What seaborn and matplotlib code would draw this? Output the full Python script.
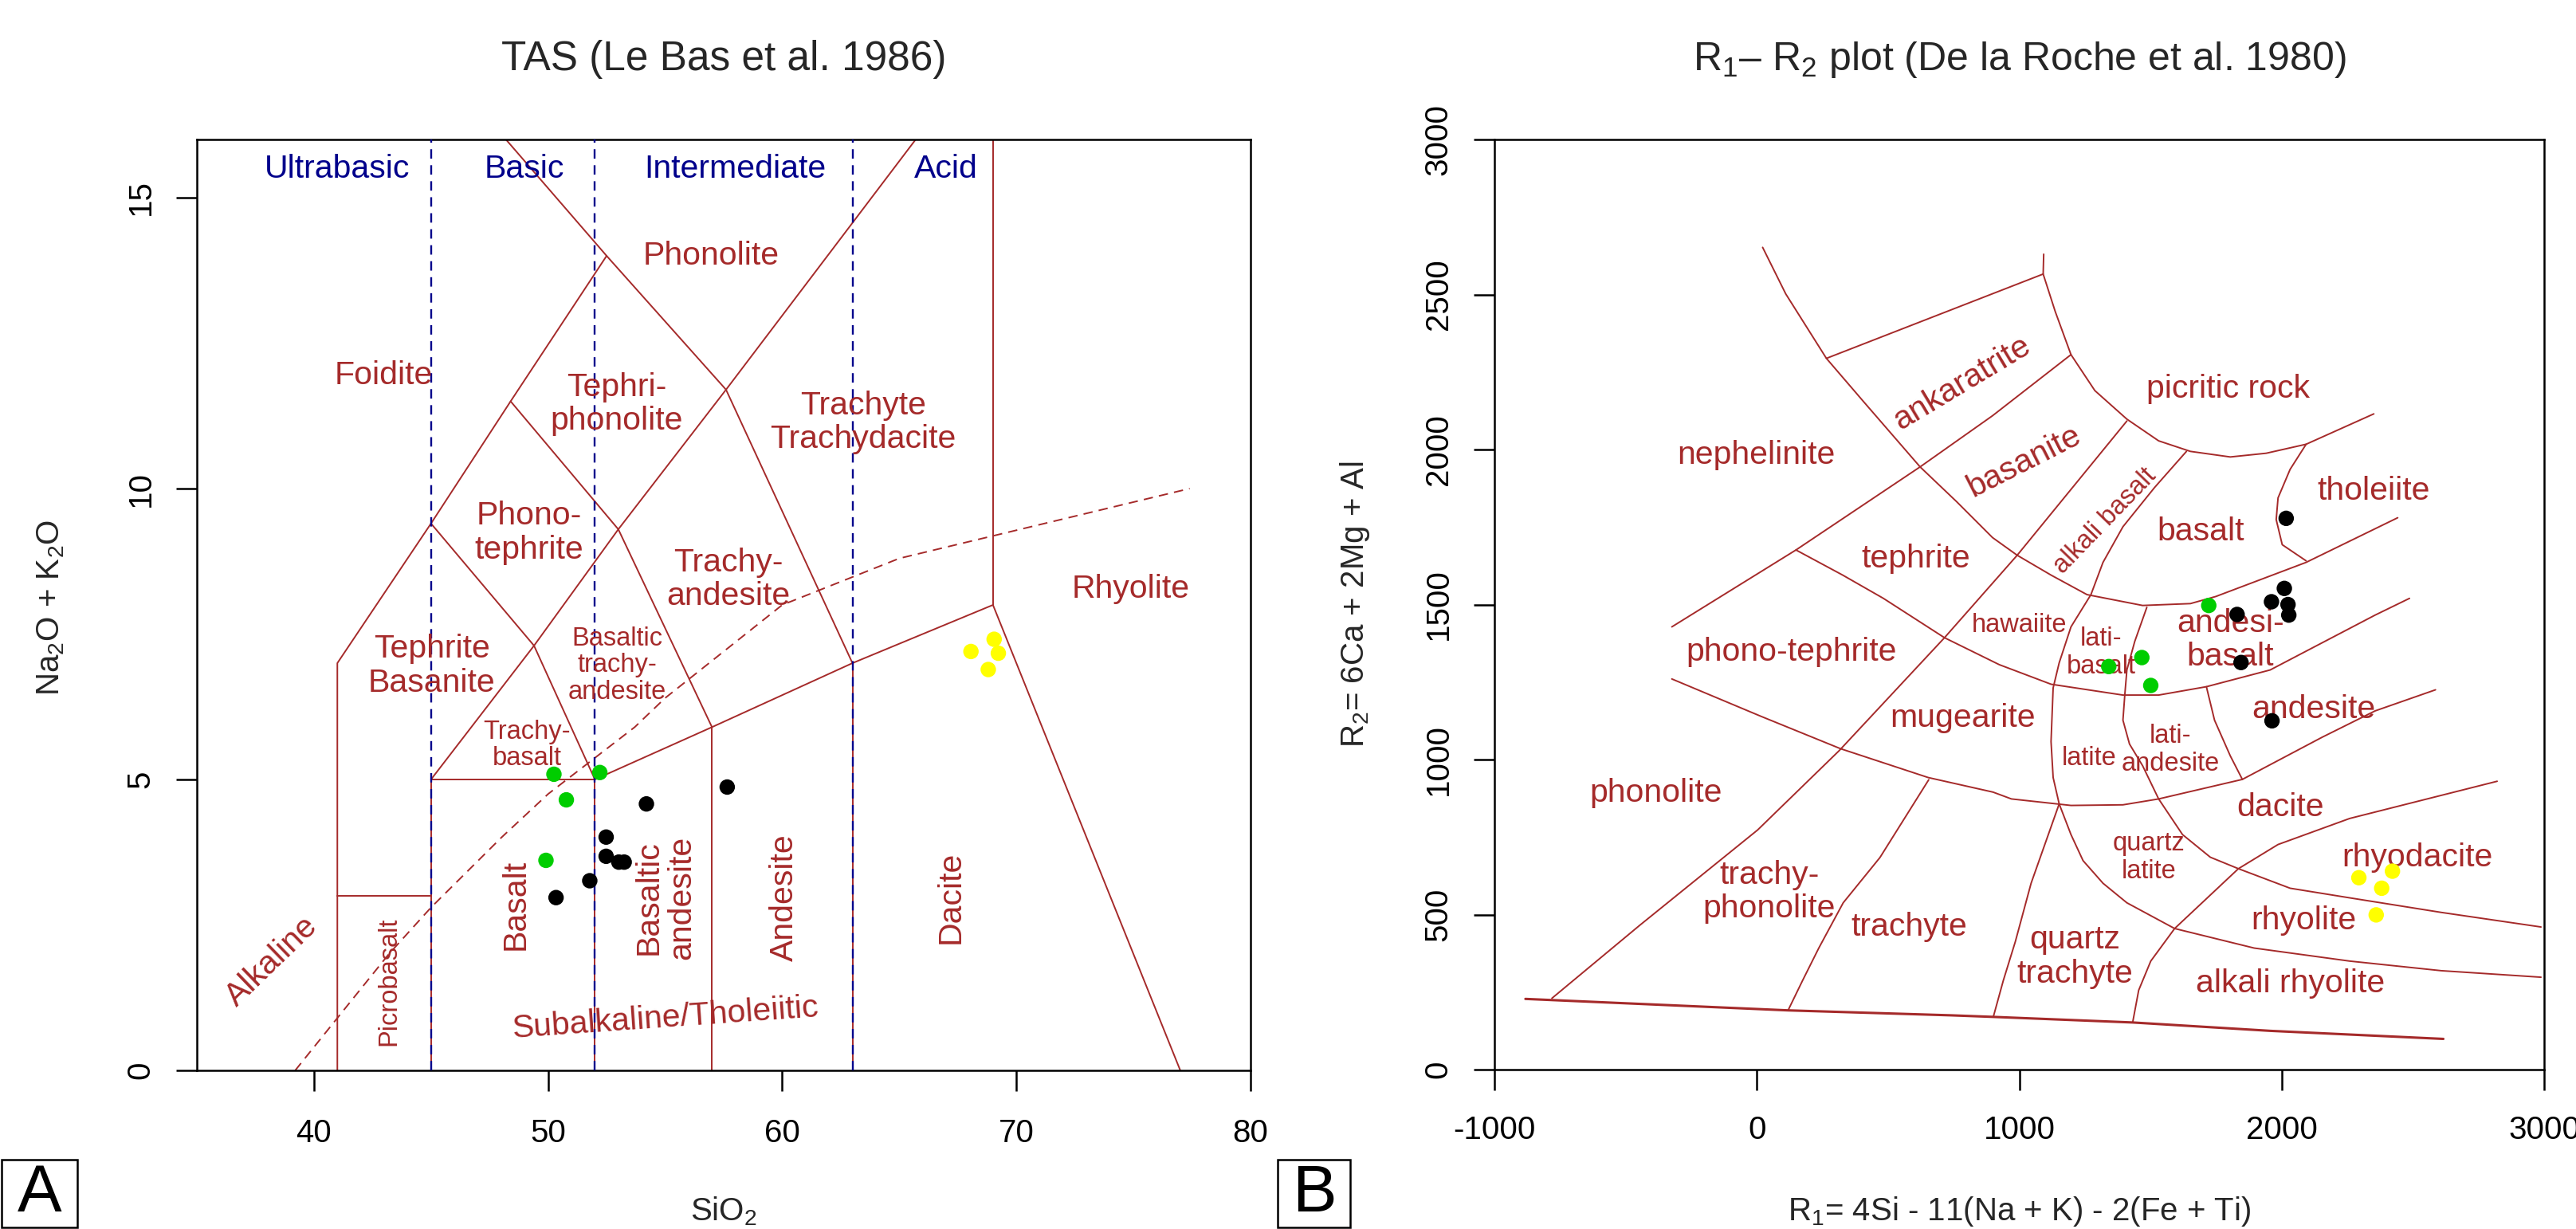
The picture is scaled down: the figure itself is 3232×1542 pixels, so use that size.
import matplotlib
matplotlib.use("Agg")
import matplotlib.pyplot as plt
import seaborn as sns
import pandas as pd
from matplotlib.patches import Rectangle

# ---------------- sample data ----------------
TAS_SIO2_BLACK = [54.2, 57.65, 52.48, 52.48, 53.02, 53.25, 51.78, 50.34]
TAS_ALK_BLACK = [4.58, 4.87, 4.01, 3.68, 3.58, 3.58, 3.26, 2.97]
TAS_SIO2_GREEN = [50.25, 52.21, 50.78, 49.91]
TAS_ALK_GREEN = [5.09, 5.12, 4.65, 3.61]
TAS_SIO2_YELLOW = [69.05, 68.06, 69.23, 68.8]
TAS_ALK_YELLOW = [7.41, 7.2, 7.17, 6.89]

R1_BLACK = [2017, 2010, 1961, 2024, 2027, 1830, 1845, 1963]
R2_BLACK = [1778, 1552, 1509, 1500, 1466, 1468, 1313, 1125]
R1_GREEN = [1722, 1467, 1341, 1501]
R2_GREEN = [1497, 1329, 1300, 1239]
R1_YELLOW = [2294, 2422, 2381, 2360]
R2_YELLOW = [619, 640, 585, 499]

# ---------------- TAS field boundaries (Le Bas et al. 1986) ----------------
TAS_FOIDITE = [(41, 0), (41, 7), (45, 9.4), (48.4, 11.5), (52.5, 14)]
TAS_PHONOLITE = [(48.2, 16), (52.5, 14), (57.6, 11.7), (63, 7), (69, 8), (77, 0)]
TAS_TEPHRITE = [(45, 9.4), (49.4, 7.3), (52, 5)]
TAS_TEPHRIPHON = [(48.4, 11.5), (53, 9.3), (57, 5.9)]
TAS_TRACHY = [(45, 5), (49.4, 7.3), (53, 9.3), (57.6, 11.7), (65.7, 16)]
TAS_PICRO = [(41, 3), (45, 3)]
TAS_BASALT = [(45, 0), (45, 5), (52, 5), (52, 0)]
TAS_SUBALK = [(52, 5), (57, 5.9), (63, 7)]
TAS_V57 = [(57, 0), (57, 5.9)]
TAS_V63 = [(63, 0), (63, 7)]
TAS_V69 = [(69, 8), (69, 16)]
IRVINE_X = [39.2, 40, 43.2, 45, 48, 50, 53.7, 55, 60, 65, 77.4]
IRVINE_Y = [0, 0.4, 2, 2.8, 4, 4.75, 5.9, 6.4, 8, 8.8, 10]
TAS_DIVIDERS = [45, 52, 63]

TAS_CLASS_TEXT = ["Ultrabasic", "Basic", "Intermediate", "Acid"]
TAS_CLASS_X = [41, 49, 58, 67]
TAS_CLASS_Y = [15.5, 15.5, 15.5, 15.5]

TAS_LABELS = [("Phonolite", 56.95, 14.0), ("Foidite", 42.98, 11.94),
              ("Tephri-\nphonolite", 52.94, 11.45), ("Trachyte\nTrachydacite", 63.46, 11.14),
              ("Phono-\ntephrite", 49.2, 9.24), ("Trachy-\nandesite", 57.71, 8.44),
              ("Rhyolite", 74.9, 8.27), ("Tephrite\nBasanite", 45.03, 6.95)]
TAS_SMALL_LABELS = [("Basaltic\ntrachy-\nandesite", 52.94, 6.96), ("Trachy-\nbasalt", 49.1, 5.59)]
TAS_VERT_LABELS = [("Basalt", 48.6, 2.85), ("Basaltic\nandesite", 55.0, 2.97),
                   ("Andesite", 60.07, 2.97), ("Dacite", 67.2, 2.98)]
TAS_PICRO_LABEL = ("Picrobasalt", 43.2, 1.53)
TAS_ALK_LABEL = ("Alkaline", 38.2, 1.88)
TAS_SUB_LABEL = ("Subalkaline/Tholeiitic", 55.0, 0.89)

# ---------------- R1-R2 field boundaries (De la Roche et al. 1980) ----------------
R_P1 = [(22, 2652), (110, 2502), (265, 2294), (405, 2156), (622, 1944), (761, 1832),
        (898, 1716), (992, 1659), (1121, 1595), (1258, 1532), (1470, 1497), (1652, 1503),
        (1749, 1526), (2093, 1636), (2442, 1780)]
R_T = [(149, 1676), (327, 1595), (482, 1520), (715, 1393), (924, 1306), (1121, 1243),
       (1395, 1208), (1531, 1208), (1713, 1235), (1956, 1289), (2356, 1466), (2487, 1520)]
R_L2 = [(-324, 1260), (17, 1139), (319, 1035), (653, 942), (900, 895), (970, 873),
        (1197, 852), (1395, 854), (1531, 873), (1850, 936), (2154, 1072), (2356, 1157),
        (2586, 1225)]
R_Q = [(1486, 1491), (1440, 1381), (1410, 1289), (1402, 1208), (1395, 1127), (1420, 1050),
       (1470, 980), (1531, 873), (1622, 758), (1728, 685), (1835, 648), (2032, 585),
       (2259, 554), (2608, 507), (2988, 460)]
R_AB = [(1637, 1994), (1516, 1878), (1395, 1751), (1319, 1636), (1273, 1532), (1197, 1428),
        (1152, 1312), (1129, 1231), (1121, 1058), (1129, 942), (1152, 857), (1197, 758),
        (1243, 674), (1319, 601), (1410, 538), (1592, 455), (1895, 392), (2259, 350),
        (2608, 319), (2988, 298)]
R_D = [(-781, 230), (-447, 465), (3, 773), (314, 1029), (715, 1393), (992, 1659), (1410, 2092)]
R_C = [(-324, 1428), (149, 1676), (622, 1944), (898, 2109), (1197, 2306)]
R_A = [(265, 2294), (1091, 2566)]
R_PICRITIC = [(1093, 2630), (1091, 2566), (1137, 2445), (1197, 2306), (1288, 2190),
              (1410, 2098), (1531, 2028), (1652, 1994), (1804, 1976), (1941, 1988),
              (2093, 2017), (2351, 2115)]
R_THOL = [(2093, 2017), (2032, 1936), (1986, 1844), (1979, 1774), (2002, 1693), (2093, 1641)]
R_LATIAND = [(1713, 1235), (1744, 1127), (1804, 1012), (1850, 936)]
R_QTRACHY = [(1152, 857), (1045, 601), (985, 413), (939, 287), (901, 170)]
R_TRPHON = [(655, 935), (469, 684), (329, 538), (236, 392), (174, 287), (120, 193)]
R_DIAG = [(1432, 152), (1455, 256), (1501, 350), (1592, 455), (1835, 648), (1986, 726),
          (2259, 810), (2821, 930)]
R_BOTTOM = [(-882, 228), (120, 191), (742, 175), (901, 170), (1432, 152), (1956, 125), (2616, 99)]

R_LABELS = [("nephelinite", -3, 1982, 0), ("ankaratrite", 782, 2215, 31),
            ("basanite", 1019, 1962, 27), ("picritic rock", 1797, 2196, 0),
            ("tholeiite", 2351, 1867, 0), ("basalt", 1690, 1734, 0),
            ("tephrite", 606, 1647, 0), ("phono-tephrite", 133, 1347, 0),
            ("andesi-\nbasalt", 1804, 1385, 0), ("mugearite", 786, 1133, 0),
            ("andesite", 2123, 1162, 0), ("phonolite", -385, 893, 0),
            ("dacite", 1994, 846, 0), ("rhyodacite", 2517, 684, 0),
            ("trachy-\nphonolite", 47, 573, 0), ("trachyte", 580, 460, 0),
            ("rhyolite", 2085, 481, 0), ("quartz\ntrachyte", 1212, 364, 0),
            ("alkali rhyolite", 2032, 277, 0)]
R_SMALL_LABELS = [("alkali basalt", 1326, 1768, 46), ("hawaiite", 1000, 1433, 0),
                  ("lati-\nbasalt", 1311, 1344, 0), ("latite", 1266, 1003, 0),
                  ("lati-\nandesite", 1577, 1031, 0), ("quartz\nlatite", 1493, 684, 0)]

TAS_XTICKS = [40, 50, 60, 70, 80]
TAS_YTICKS = [0, 5, 10, 15]
R_XTICKS = [-1000, 0, 1000, 2000, 3000]
R_XTICK_LABELS = ["-1000", "0", "1000", "2000", "3000"]
R_YTICKS = [0, 500, 1000, 1500, 2000, 2500, 3000]

# ---------------- styling ----------------
BROWN = "#A52A2A"
BLUE = "#00008B"
GREEN = "#00CD00"
YELLOW = "#FFFF00"
PALETTE = {"black": "black", "green": GREEN, "yellow": YELLOW}

sns.set_style("white")
plt.rcParams["font.family"] = ["Liberation Sans", "DejaVu Sans"]
plt.rcParams["mathtext.fontset"] = "custom"
plt.rcParams["mathtext.rm"] = "Liberation Sans"
plt.rcParams["mathtext.it"] = "Liberation Sans:italic"
plt.rcParams["mathtext.bf"] = "Liberation Sans:bold"
plt.rcParams["axes.unicode_minus"] = False

fig = plt.figure(figsize=(32.32, 15.42), dpi=100)
fig.patch.set_facecolor("white")
axL = fig.add_axes([0.07642, 0.12905, 0.40903, 0.75746])
axR = fig.add_axes([0.58014, 0.12970, 0.40749, 0.75681])

LW = 1.4
MAIN_FS = 29.5
SMALL_FS = 23.5
DOT = 195


def draw(ax, pts, **kw):
    xs = [p[0] for p in pts]
    ys = [p[1] for p in pts]
    ax.plot(xs, ys, color=kw.pop("color", BROWN), lw=kw.pop("lw", LW), **kw)


def style_axes(ax, xlim, ylim, xticks, yticks, xpad, ypad, xticklabels=None):
    ax.set_xlim(*xlim)
    ax.set_ylim(*ylim)
    ax.set_xticks(xticks)
    ax.set_yticks(yticks)
    if xticklabels is not None:
        ax.set_xticklabels(xticklabels)
    ax.set_xlabel("")
    ax.set_ylabel("")
    for s in ax.spines.values():
        s.set_visible(True)
        s.set_color("black")
        s.set_linewidth(1.8)
    ax.tick_params(axis="both", direction="out", length=19, width=1.8, color="black",
                   labelsize=29, labelcolor="black")
    ax.tick_params(axis="x", pad=xpad, bottom=True)
    ax.tick_params(axis="y", pad=ypad, left=True, labelrotation=90)
    for lbl in ax.get_yticklabels():
        lbl.set_va("center")
    ax.grid(False)
    ax.set_facecolor("white")


# ---------------- TAS panel ----------------
for line in [TAS_FOIDITE, TAS_PHONOLITE, TAS_TEPHRITE, TAS_TEPHRIPHON, TAS_TRACHY,
             TAS_PICRO, TAS_BASALT, TAS_SUBALK, TAS_V57, TAS_V63, TAS_V69]:
    draw(axL, line)
axL.plot(IRVINE_X, IRVINE_Y, color=BROWN, lw=LW, linestyle=(0, (6, 4)))
for xv in TAS_DIVIDERS:
    axL.plot([xv, xv], [0, 16], color=BLUE, lw=1.7, linestyle=(0, (5, 3.5)), zorder=3)

for t, x, y in zip(TAS_CLASS_TEXT, TAS_CLASS_X, TAS_CLASS_Y):
    axL.text(x, y, t, color=BLUE, fontsize=MAIN_FS, ha="center", va="center")
for t, x, y in TAS_LABELS:
    axL.text(x, y, t, color=BROWN, fontsize=MAIN_FS, ha="center", va="center",
             multialignment="center", linespacing=1.15)
for t, x, y in TAS_SMALL_LABELS:
    axL.text(x, y, t, color=BROWN, fontsize=SMALL_FS, ha="center", va="center",
             multialignment="center", linespacing=1.1)
for t, x, y in TAS_VERT_LABELS:
    axL.text(x, y, t, color=BROWN, fontsize=MAIN_FS, ha="center", va="center",
             rotation=90, multialignment="center", linespacing=1.1)
axL.text(TAS_PICRO_LABEL[1], TAS_PICRO_LABEL[2], TAS_PICRO_LABEL[0], color=BROWN,
         fontsize=SMALL_FS, ha="center", va="center", rotation=90)
axL.text(TAS_ALK_LABEL[1], TAS_ALK_LABEL[2], TAS_ALK_LABEL[0], color=BROWN,
         fontsize=MAIN_FS, ha="center", va="center", rotation=44, rotation_mode="anchor")
axL.text(TAS_SUB_LABEL[1], TAS_SUB_LABEL[2], TAS_SUB_LABEL[0], color=BROWN,
         fontsize=MAIN_FS, ha="center", va="center", rotation=4, rotation_mode="anchor")

tas_df = pd.DataFrame({
    "SiO2": TAS_SIO2_BLACK + TAS_SIO2_GREEN + TAS_SIO2_YELLOW,
    "alk": TAS_ALK_BLACK + TAS_ALK_GREEN + TAS_ALK_YELLOW,
    "group": ["black"] * len(TAS_SIO2_BLACK) + ["green"] * len(TAS_SIO2_GREEN)
             + ["yellow"] * len(TAS_SIO2_YELLOW),
})
sns.scatterplot(data=tas_df, x="SiO2", y="alk", hue="group", palette=PALETTE, s=DOT,
                linewidth=0, legend=False, ax=axL, zorder=6)
style_axes(axL, (35, 80), (0, 16), TAS_XTICKS, TAS_YTICKS, xpad=24, ypad=18)

axL.text(0.5, 1.0745, "TAS (Le Bas et al. 1986)", transform=axL.transAxes, fontsize=37,
         ha="center", va="baseline")
axL.text(0.5, -0.161, "SiO$_\\mathregular{2}$", transform=axL.transAxes, fontsize=29,
         ha="center", va="baseline")
axL.text(-0.1384, 0.497, "Na$_\\mathregular{2}$O + K$_\\mathregular{2}$O",
         transform=axL.transAxes, fontsize=29, ha="center", va="center", rotation=90)

# ---------------- R1-R2 panel ----------------
for line in [R_P1, R_T, R_L2, R_Q, R_AB, R_D, R_C, R_A, R_PICRITIC, R_THOL, R_LATIAND,
             R_QTRACHY, R_TRPHON, R_DIAG]:
    draw(axR, line)
draw(axR, R_BOTTOM, lw=2.2)

for t, x, y, r in R_LABELS:
    axR.text(x, y, t, color=BROWN, fontsize=MAIN_FS, ha="center", va="center",
             rotation=r, rotation_mode="anchor", multialignment="center", linespacing=1.15)
for t, x, y, r in R_SMALL_LABELS:
    axR.text(x, y, t, color=BROWN, fontsize=SMALL_FS, ha="center", va="center",
             rotation=r, rotation_mode="anchor", multialignment="center", linespacing=1.15)

r_df = pd.DataFrame({
    "R1": R1_BLACK + R1_GREEN + R1_YELLOW,
    "R2": R2_BLACK + R2_GREEN + R2_YELLOW,
    "group": ["black"] * len(R1_BLACK) + ["green"] * len(R1_GREEN)
             + ["yellow"] * len(R1_YELLOW),
})
sns.scatterplot(data=r_df, x="R1", y="R2", hue="group", palette=PALETTE, s=DOT,
                linewidth=0, legend=False, ax=axR, zorder=6)
style_axes(axR, (-1000, 3000), (0, 3000), R_XTICKS, R_YTICKS, xpad=22, ypad=18,
           xticklabels=R_XTICK_LABELS)

axR.text(0.5, 1.0746, "R$_\\mathregular{1}$\u2013 R$_\\mathregular{2}$ plot (De la Roche et al. 1980)",
         transform=axR.transAxes, fontsize=36, ha="center", va="baseline")
axR.text(0.5, -0.162, "R$_\\mathregular{1}$= 4Si - 11(Na + K) - 2(Fe + Ti)",
         transform=axR.transAxes, fontsize=29, ha="center", va="baseline")
axR.text(-0.1329, 0.5, "R$_\\mathregular{2}$= 6Ca + 2Mg + Al", transform=axR.transAxes,
         fontsize=29, ha="center", va="center", rotation=90)

# ---------------- panel letters ----------------
for letter, x0, w in [("A", 2 / 3232, 95 / 3232), ("B", 1603 / 3232, 91 / 3232)]:
    fig.add_artist(Rectangle((x0, 0.0013), w, 0.0551, transform=fig.transFigure,
                             fill=False, edgecolor="black", lw=1.8))
    fig.text(x0 + w / 2, 0.0013 + 0.0551 / 2, letter, fontsize=60, ha="center",
             va="center", color="black")

fig.savefig("out.png", dpi=100, facecolor="white")
